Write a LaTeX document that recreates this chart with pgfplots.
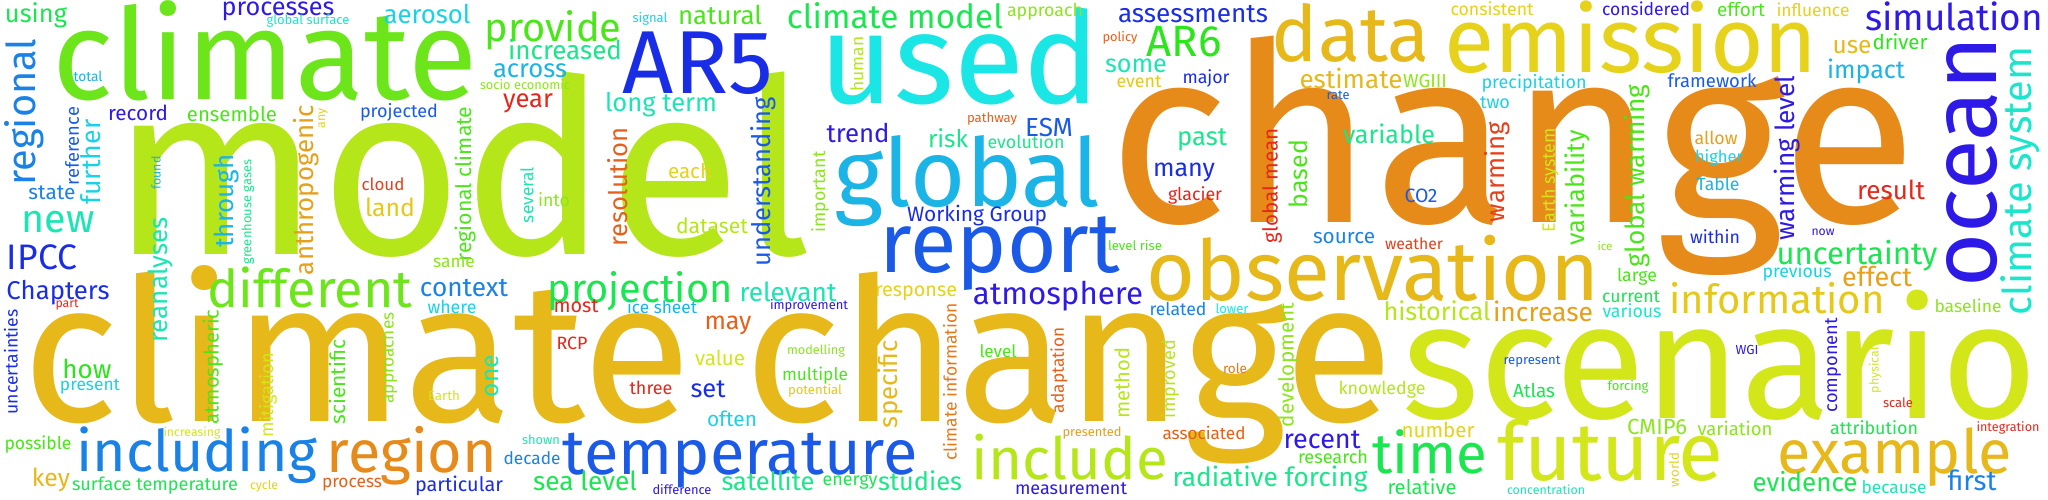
\documentclass[border=0pt]{standalone}
\usepackage{pgfplots}
\pgfplotsset{compat=1.18}
\usepackage{pgfplotstable}
\usepackage{graphicx}
\usepackage{fontspec}
\setmainfont{Fira Sans}
\definecolor{lime}{HTML}{6CE61A}
\definecolor{yg}{HTML}{B4E61A}
\definecolor{ygl}{HTML}{D2E61A}
\definecolor{gold}{HTML}{E6B81A}
\definecolor{gldy}{HTML}{E6C81A}
\definecolor{orng}{HTML}{E68A1A}
\definecolor{org2}{HTML}{E6781A}
\definecolor{amber}{HTML}{E6A01A}
\definecolor{yel}{HTML}{E6D21A}
\definecolor{cyan}{HTML}{1AE6E6}
\definecolor{cyn2}{HTML}{1AD2E6}
\definecolor{sky}{HTML}{1AB4E6}
\definecolor{azure}{HTML}{1A82E6}
\definecolor{blu}{HTML}{1A5AE6}
\definecolor{blu2}{HTML}{1A2DE6}
\definecolor{indg}{HTML}{2E1AE6}
\definecolor{teal}{HTML}{1AE6B4}
\definecolor{tq}{HTML}{1AE6CC}
\definecolor{mint}{HTML}{1AE68C}
\definecolor{sgrn}{HTML}{1AE650}
\definecolor{grn2}{HTML}{2AE61A}
\definecolor{grn}{HTML}{4AE61A}
\definecolor{lgrn}{HTML}{8CE61A}
\definecolor{red}{HTML}{E6261A}
\definecolor{rred}{HTML}{E6401A}
\definecolor{rorg}{HTML}{E6601A}
\def\wcsplit#1/#2\relax{\color{#1}\resizebox{\W bp}{!}{#2}}
\pgfplotstableread[col sep=comma]{
x,y,w,r,c,t
462,165,700,0,yg,model
265,51,424,0,lime,climate
708,365,1370,0,gold,climate change
1513,156,807,0,orng,change
1720,355,634,0,ygl,scenario
960,56,280,0,cyan,used
967,181,265,0,sky,global
1000,254,240,0,blu,report
698,63,150,0,blu2,AR5
1373,268,453,0,gold,observation
1631,37,373,0,yel,emission
1351,33,158,0,gold,data
740,460,355,0,blu,temperature
1070,457,196,0,yg,include
1610,450,226,0,ygl,future
1895,457,234,0,gold,example
1777,298,215,0,gldy,information
1972,162,251,90,indg,ocean
2020,181,268,90,tq,climate system
1954,16,178,0,indg,simulation
640,291,185,0,sgrn,projection
412,456,170,0,orng,region
197,455,241,0,azure,including
310,287,205,0,lime,different
1058,296,170,0,indg,atmosphere
1430,452,115,0,sgrn,time
1270,479,195,0,mint,radiative forcing
895,16,216,0,sgrn,climate model
1857,256,161,0,sgrn,uncertainty
36,15,62,0,sgrn,using
278,11,113,0,indg,processes
308,21,83,0,tq,global surface
24,112,147,90,azure,regional
88,76,29,0,sky,total
138,113,60,0,indg,record
232,114,90,0,grn,ensemble
306,190,170,90,amber,anthropogenic
323,118,20,90,yel,any
72,146,78,90,blu,reference
91,162,85,90,cyn2,further
52,193,47,0,azure,state
58,222,73,0,teal,new
156,173,33,90,sky,found
227,201,93,90,sky,through
248,212,105,90,mint,greenhouse gases
161,280,125,90,teal,reanalyses
42,257,70,0,blu2,IPCC
58,293,103,0,blu2,Chapters
67,305,23,0,red,part
11,362,105,90,blu2,uncertainties
87,369,49,0,grn2,how
90,387,60,0,cyn2,present
213,367,115,90,grn,atmospheric
268,395,84,90,ygl,mitigation
337,382,85,90,grn,scientific
192,433,57,0,ygl,increasing
38,445,67,0,grn,possible
51,480,38,0,gold,key
155,486,166,0,sgrn,surface temperature
264,486,28,0,yel,cycle
352,485,60,0,rorg,process
427,14,87,0,cyn2,aerosol
553,30,137,0,grn,provide
565,49,114,0,mint,increased
530,71,74,0,sky,across
525,85,90,0,lgrn,socio economic
528,103,50,0,red,year
399,112,78,0,blu,projected
650,19,35,0,cyn2,signal
720,15,84,0,grn,natural
661,105,112,0,teal,long term
465,184,155,90,grn,regional climate
383,184,43,0,rred,cloud
390,207,50,0,gldy,land
527,195,56,90,teal,several
554,200,32,0,lgrn,into
618,187,119,90,rorg,resolution
690,171,44,0,yel,each
712,226,72,0,yg,dataset
454,263,42,0,lgrn,same
464,288,88,0,azure,context
452,307,49,0,cyn2,where
576,306,45,0,red,most
662,307,70,0,sky,ice sheet
389,358,91,90,lgrn,approaches
572,343,31,0,red,RCP
492,376,42,90,teal,one
444,396,32,0,ygl,Earth
651,388,43,0,red,three
541,440,38,0,teal,shown
532,458,57,0,azure,decade
459,486,88,0,blu2,particular
585,481,104,0,sgrn,sea level
682,490,59,0,indg,difference
1045,12,76,0,lgrn,approach
857,64,55,90,yg,human
992,119,50,0,rorg,pathway
858,133,63,0,indg,trend
948,138,40,0,mint,risk
1026,142,77,0,mint,evolution
763,182,169,90,blu,understanding
820,192,81,90,lgrn,important
977,216,140,0,blu2,Working Group
788,292,97,0,teal,relevant
809,306,78,0,indg,improvement
916,293,82,0,yel,response
728,325,47,0,rorg,may
816,351,58,0,lgrn,modelling
720,358,50,0,ygl,value
815,376,66,0,grn,multiple
815,391,54,0,gldy,potential
708,389,35,0,blu2,set
732,419,50,0,cyn2,often
890,384,88,90,gold,specific
950,382,157,90,org2,climate information
998,351,37,0,grn,level
768,481,93,0,mint,satellite
850,482,55,0,sgrn,energy
920,481,84,0,mint,studies
1071,489,112,0,indg,measurement
1193,14,150,0,blu2,assessments
1120,38,35,0,rorg,policy
1184,42,75,0,grn2,AR6
1136,66,62,0,teal,some
1139,82,45,0,gldy,event
1206,78,47,0,blu2,major
1351,78,103,0,gold,estimate
1338,95,23,0,blu,rate
1049,127,48,0,blu,ESM
1202,140,50,0,mint,past
1184,172,62,0,blu2,many
1195,195,54,0,red,glacier
1272,186,115,90,red,global mean
1298,174,68,90,grn,based
1389,134,92,0,mint,variable
1344,238,62,0,azure,source
1135,245,54,0,grn,level rise
1178,309,57,0,azure,related
1232,309,33,0,cyan,lower
1059,370,86,90,rorg,adaptation
1122,383,71,90,yg,method
1170,379,78,90,yg,improved
1235,368,24,0,org2,role
1288,365,124,90,lgrn,development
1382,390,87,0,yg,knowledge
1092,433,59,0,amber,presented
1204,433,83,0,rorg,associated
1322,440,77,0,indg,recent
1333,457,70,0,grn,research
1492,9,83,0,yel,consistent
1646,9,88,0,indg,considered
1425,81,44,0,lgrn,WGIII
1534,83,105,0,cyn2,precipitation
1712,81,89,0,blu,framework
1495,103,30,0,cyn2,two
1497,172,100,90,rred,warming
1550,180,104,90,ygl,Earth system
1577,188,115,90,grn,variability
1637,176,182,90,grn,global warming
1421,196,33,0,blu,CO2
1414,244,58,0,rred,weather
1605,246,15,0,lgrn,ice
1716,138,43,0,amber,allow
1719,158,48,0,cyn2,higher
1718,184,43,0,sky,Table
1715,237,50,0,blu2,within
1437,311,107,0,yg,historical
1543,311,100,0,amber,increase
1637,277,40,0,grn,large
1631,297,58,0,sgrn,current
1632,311,59,0,tq,various
1532,362,57,0,blu,represent
1534,390,42,0,sgrn,Atlas
1628,387,41,0,grn,forcing
1438,430,73,0,yel,number
1657,427,60,0,lgrn,CMIP6
1422,487,69,0,sgrn,relative
1546,490,78,0,teal,concentration
1674,470,34,90,yel,world
1741,10,48,0,grn,effort
1813,10,73,0,yel,influence
1852,47,39,0,gold,use
1900,42,55,0,grn2,driver
1866,71,78,0,sky,impact
1787,158,165,90,indg,warming level
1891,190,68,0,red,result
1823,232,23,0,indg,now
1797,272,69,0,cyn2,previous
1877,277,70,0,amber,effect
1968,306,67,0,lgrn,baseline
1747,350,23,0,indg,WGI
1833,365,94,90,indg,component
1875,370,46,90,ygl,physical
1898,403,30,0,red,scale
1735,428,75,0,lgrn,variation
1874,428,88,0,sgrn,attribution
2008,428,63,0,red,integration
1805,482,105,0,sgrn,evidence
1894,487,65,0,teal,because
1972,480,49,0,azure,first
}\words
\pgfplotstablecreatecol[
  create col/assign/.code={%
    \getthisrow{c}\wcc
    \getthisrow{t}\wct
    \edef\wcentry{\wcc/\wct}%
    \pgfkeyslet{/pgfplots/table/create col/next content}\wcentry
  }]{m}\words
\begin{document}
\begin{tikzpicture}
\useasboundingbox (0,0) rectangle (2048bp,500bp);
\begin{axis}[
  at={(0,0)}, anchor=south west,
  hide axis, scale only axis,
  width=2048bp, height=500bp,
  xmin=0, xmax=2048, ymin=0, ymax=500,
  y dir=reverse,
  clip=false,
  axis background/.style={fill=white},
]
\addplot[draw=none, mark=none,
  point meta=explicit symbolic,
  visualization depends on={\thisrow{w}\as\W},
  visualization depends on={\thisrow{r}\as\R},
  nodes near coords={\expandafter\wcsplit\pgfplotspointmeta\relax},
  nodes near coords align={anchor=center},
  every node near coord/.append style={inner sep=0pt, outer sep=0pt, rotate=\R, anchor=center},
] table[x=x, y=y, meta=m] {\words};
\end{axis}
\end{tikzpicture}
\end{document}
